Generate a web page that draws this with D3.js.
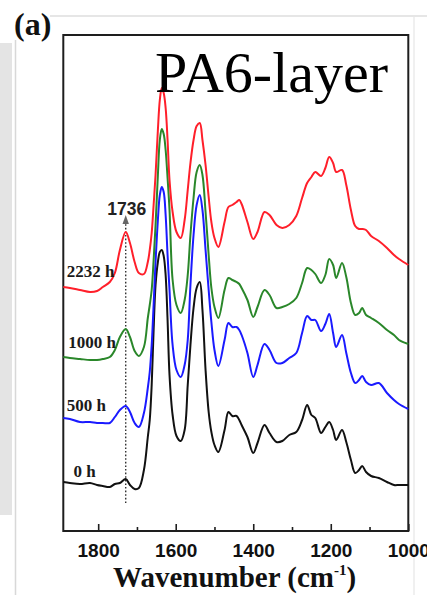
<!DOCTYPE html>
<html>
<head>
<meta charset="utf-8">
<script src="https://cdn.jsdelivr.net/npm/d3@7"></script>
<style>
  html, body { margin: 0; padding: 0; background: #fff; }
  svg { display: block; }
</style>
</head>
<body>
<svg id="chart" width="427" height="595"></svg>
<script>
// ---------- data ----------
const wavenumbers = [1890,1873,1847,1821,1803,1788,1770,1757,1744,1729,
  1718,1706,1695,1682,1672,1667,1662,1657,1652,1646,
  1641,1636,1631,1626,1621,1616,1608,1598,1587,1577,
  1569,1562,1554,1546,1538,1531,1523,1515,1508,1500,
  1490,1474,1464,1454,1443,1436,1430,1415,1400,1389,
  1371,1358,1340,1325,1307,1289,1274,1261,1250,1240,
  1225,1214,1204,1194,1186,1171,1160,1148,1137,1127,
  1119,1109,1096,1076,1055,1037,1024,1000];

const series0h = [0.49,0.48,0.47,0.48,0.46,0.45,0.44,0.47,0.48,0.52,
  0.46,0.42,0.43,0.61,0.94,1.11,1.46,2.01,2.46,2.69,
  2.79,2.81,2.75,2.56,2.11,1.56,1.16,0.95,0.90,1.01,
  1.46,1.86,2.23,2.43,2.49,2.21,1.61,1.19,0.99,0.86,
  0.79,1.01,1.19,1.15,1.15,1.11,1.06,0.94,0.78,0.88,
  1.06,0.98,0.89,0.90,0.96,0.99,1.11,1.26,1.16,1.13,
  0.98,1.04,1.09,1.01,0.91,1.01,0.89,0.71,0.58,0.61,
  0.65,0.59,0.55,0.53,0.49,0.46,0.46,0.46];

const series500h = [1.13,1.12,1.09,1.09,1.08,1.08,1.08,1.14,1.21,1.25,
  1.19,1.08,1.04,1.18,1.43,1.59,1.86,2.26,2.69,3.11,
  3.36,3.44,3.39,3.16,2.76,2.41,1.86,1.61,1.54,1.66,
  1.91,2.46,2.96,3.26,3.36,3.21,2.81,2.41,2.09,1.81,
  1.65,1.91,2.08,2.04,2.04,2.01,1.96,1.78,1.54,1.66,
  1.87,1.81,1.68,1.68,1.73,1.78,1.98,2.15,2.11,2.11,
  2.00,2.07,2.17,1.98,1.84,1.96,1.78,1.58,1.48,1.51,
  1.55,1.49,1.46,1.48,1.38,1.31,1.27,1.22];

const series1000h = [1.74,1.73,1.72,1.71,1.71,1.72,1.74,1.81,1.94,2.02,
  1.94,1.80,1.75,1.84,2.13,2.26,2.41,2.71,3.06,3.56,
  3.91,4.02,3.97,3.81,3.53,3.21,2.51,2.26,2.18,2.31,
  2.56,2.96,3.33,3.59,3.66,3.56,3.19,2.76,2.43,2.24,
  2.13,2.41,2.53,2.51,2.49,2.47,2.43,2.31,2.14,2.24,
  2.41,2.36,2.23,2.24,2.27,2.33,2.48,2.63,2.61,2.57,
  2.48,2.56,2.72,2.66,2.53,2.68,2.54,2.28,2.16,2.18,
  2.23,2.16,2.13,2.08,2.01,1.96,1.91,1.87];

const series2232h = [2.44,2.43,2.41,2.39,2.40,2.44,2.49,2.58,2.81,2.99,
  2.88,2.69,2.58,2.57,2.69,2.81,2.98,3.26,3.56,4.01,
  4.31,4.43,4.38,4.23,3.91,3.51,3.19,2.99,2.93,3.11,
  3.41,3.68,3.91,4.05,4.08,3.91,3.66,3.34,3.09,2.93,
  2.84,3.09,3.24,3.26,3.29,3.31,3.27,3.09,2.92,2.99,
  3.19,3.16,3.06,3.03,3.06,3.15,3.33,3.48,3.54,3.59,
  3.55,3.63,3.74,3.68,3.59,3.61,3.46,3.21,3.05,3.02,
  3.02,3.01,2.95,2.90,2.83,2.76,2.72,2.66];

const seriesNames  = ["0 h", "500 h", "1000 h", "2232 h"];
const seriesColors = ["#111111", "#1a1aff", "#2a872a", "#ff1f2a"];
const labelWave    = [1864, 1881, 1877, 1881];
const labelLevel   = [0.54, 1.20, 1.83, 2.54];

const majorTicks = [1800, 1600, 1400, 1200, 1000];
const minorTicks = [1700, 1500, 1300, 1100];
const markerWave = 1729;      // position of the dotted guide line
const markerText = "1736";
const markerRange = [0.28, 3.08];

// ---------- layout ----------
const svg = d3.select("#chart");
const plot = { left: 63.3, right: 408.3, top: 35, bottom: 531 };

const x = d3.scaleLinear().domain([1890, 1000]).range([plot.left, plot.right]);
const y = d3.scaleLinear().domain([0, 4.96]).range([plot.bottom, plot.top]);

// decorative scanned-page borders
svg.append("rect").attr("x", 0).attr("y", 43).attr("width", 12).attr("height", 472)
  .attr("fill", "#e4e4e4");
svg.append("line").attr("x1", 15.5).attr("x2", 15.5).attr("y1", 40).attr("y2", 595)
  .attr("stroke", "#d8d8d8").attr("stroke-width", 1.5);
svg.append("line").attr("x1", 50).attr("x2", 427).attr("y1", 16).attr("y2", 16)
  .attr("stroke", "#dedede").attr("stroke-width", 1.5);
svg.append("line").attr("x1", 414).attr("x2", 414).attr("y1", 17).attr("y2", 595)
  .attr("stroke", "#f0f0f0").attr("stroke-width", 2);

// (a)
svg.append("text").attr("x", 14).attr("y", 35)
  .attr("font-family", "'Liberation Serif', 'Times New Roman', serif")
  .attr("font-weight", "bold").attr("font-size", 32).attr("fill", "#111")
  .text("(a)");

// frame
svg.append("rect")
  .attr("x", plot.left).attr("y", plot.top)
  .attr("width", plot.right - plot.left).attr("height", plot.bottom - plot.top)
  .attr("fill", "#fff").attr("stroke", "#1e1e1e").attr("stroke-width", 2);

// axes (inward ticks)
const axisMajor = d3.axisBottom(x).tickValues(majorTicks).tickSize(-7).tickPadding(12.5)
  .tickFormat(d3.format("d"));
const gMajor = svg.append("g").attr("transform", `translate(0,${plot.bottom})`).call(axisMajor);
gMajor.select(".domain").remove();
gMajor.selectAll(".tick line").attr("stroke", "#1e1e1e").attr("stroke-width", 1.6);
gMajor.selectAll(".tick text")
  .attr("font-family", "'Liberation Sans', Arial, sans-serif")
  .attr("font-weight", "bold").attr("font-size", 19).attr("fill", "#111");

const axisMinor = d3.axisBottom(x).tickValues(minorTicks).tickSize(-4).tickFormat("");
const gMinor = svg.append("g").attr("transform", `translate(0,${plot.bottom})`).call(axisMinor);
gMinor.select(".domain").remove();
gMinor.selectAll(".tick line").attr("stroke", "#1e1e1e").attr("stroke-width", 1.6);

// axis title
const title = svg.append("text").attr("x", 113).attr("y", 587)
  .attr("font-family", "'Liberation Serif', 'Times New Roman', serif")
  .attr("font-weight", "bold").attr("font-size", 29).attr("fill", "#111");
title.append("tspan").text("Wavenumber (cm");
title.append("tspan").attr("font-size", 15).attr("dy", -12).text("-1");
title.append("tspan").attr("dy", 12).text(")");

// dotted guide line + arrow
svg.append("line")
  .attr("x1", x(markerWave)).attr("x2", x(markerWave))
  .attr("y1", y(markerRange[0])).attr("y2", y(markerRange[1]))
  .attr("stroke", "#333").attr("stroke-width", 1.4).attr("stroke-dasharray", "1.6,2");
const ax = x(markerWave), ay = y(markerRange[1]) - 2;
svg.append("path")
  .attr("d", `M${ax},${ay - 6} L${ax - 3.2},${ay + 3} L${ax + 3.2},${ay + 3} Z`)
  .attr("fill", "#666");
svg.append("text").attr("x", ax + 1).attr("y", 215)
  .attr("text-anchor", "middle")
  .attr("font-family", "'Liberation Sans', Arial, sans-serif")
  .attr("font-weight", "bold").attr("font-size", 17.5).attr("fill", "#222")
  .text(markerText);

// spectra
const allSeries = [series0h, series500h, series1000h, series2232h];
const line = d3.line()
  .x((d, i) => x(wavenumbers[i]))
  .y(d => y(d))
  .curve(d3.curveCatmullRom.alpha(0.5));

allSeries.forEach((s, k) => {
  svg.append("path").datum(s)
    .attr("d", line)
    .attr("fill", "none")
    .attr("stroke", seriesColors[k])
    .attr("stroke-width", 2)
    .attr("stroke-linejoin", "round");
});

// series labels
seriesNames.forEach((name, k) => {
  svg.append("text")
    .attr("x", x(labelWave[k])).attr("y", y(labelLevel[k]))
    .attr("font-family", "'Liberation Serif', 'Times New Roman', serif")
    .attr("font-weight", "bold").attr("font-size", 17).attr("fill", "#1a1a1a")
    .text(name);
});

// PA6-layer
svg.append("text").attr("x", 155).attr("y", 92)
  .attr("font-family", "'Liberation Serif', 'Times New Roman', serif")
  .attr("font-size", 58).attr("fill", "#000")
  .text("PA6-layer");
</script>
</body>
</html>
